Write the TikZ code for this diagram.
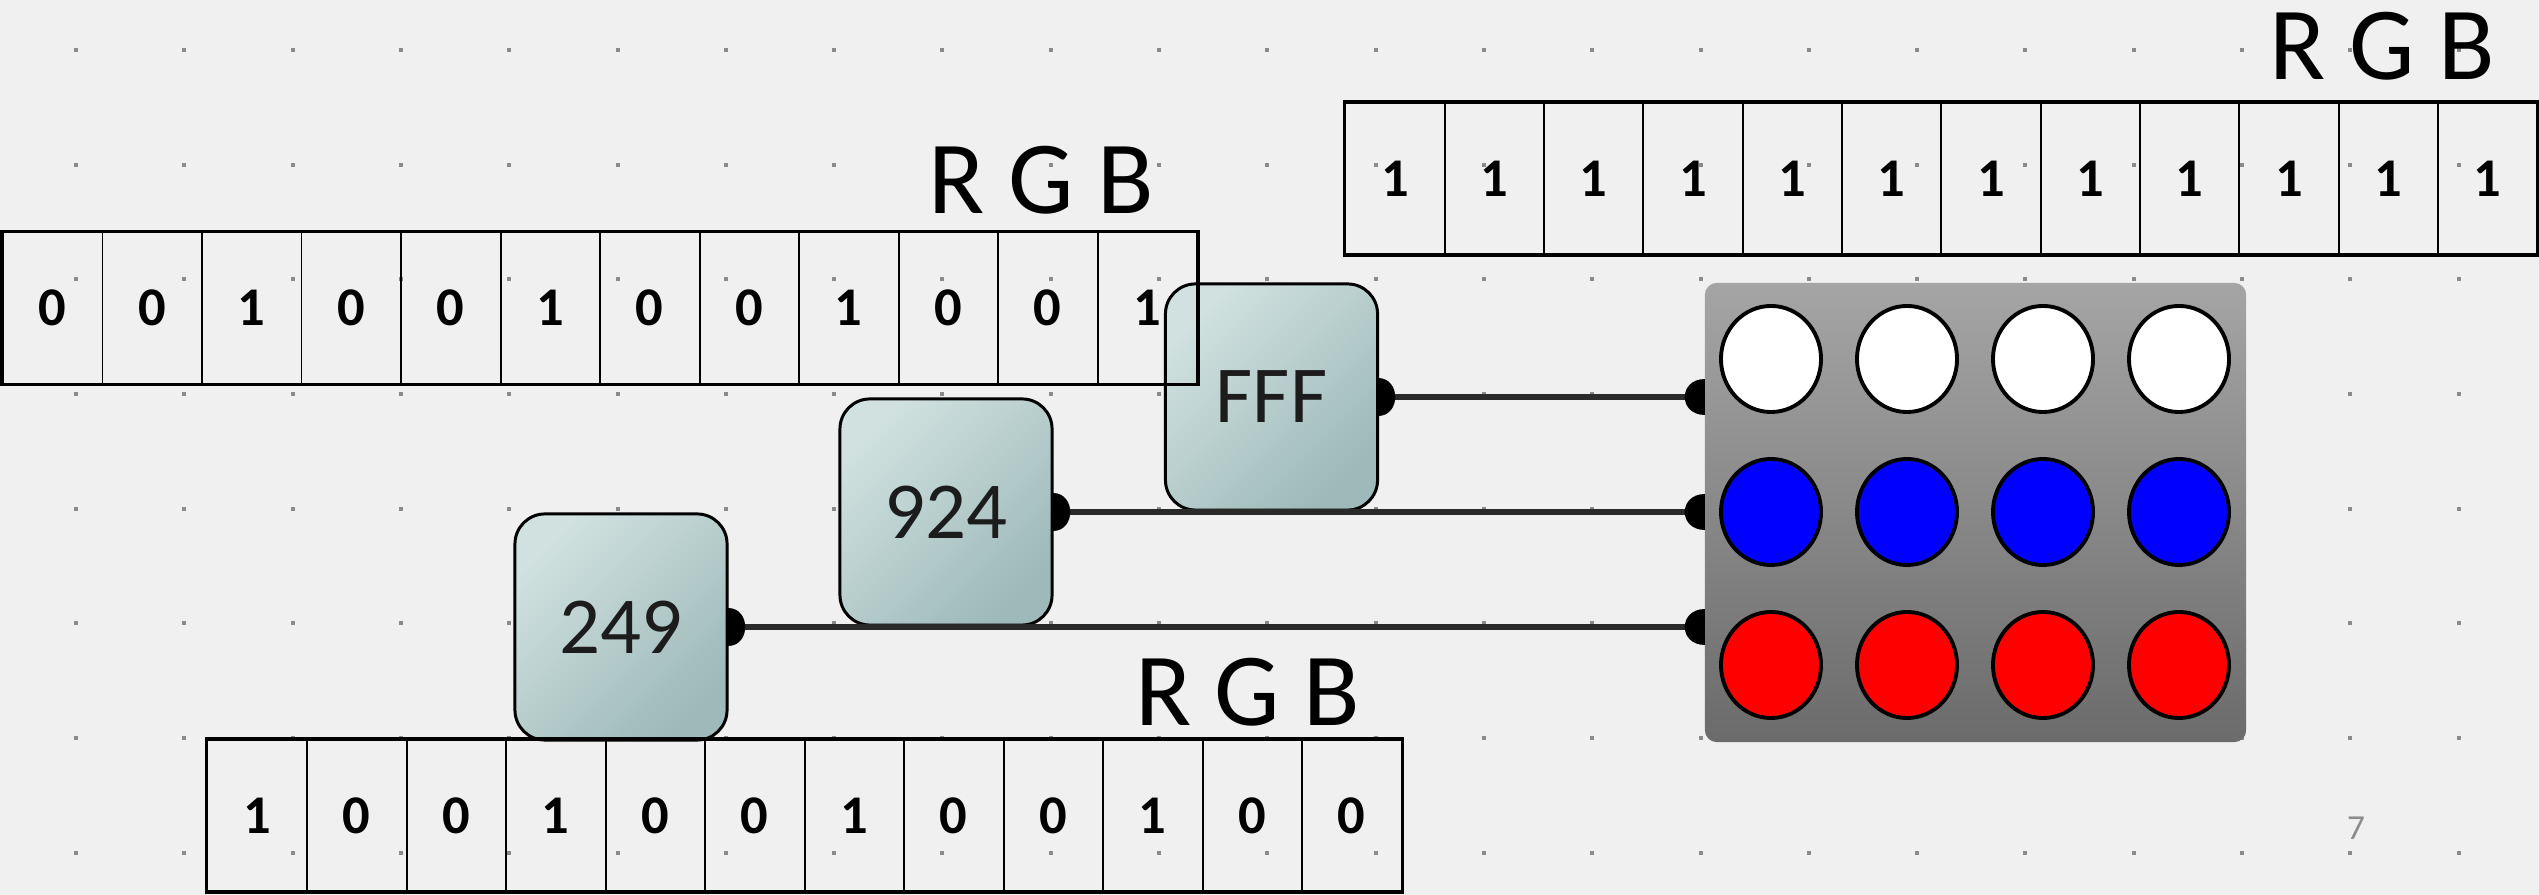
\documentclass[tikz,border=0pt]{standalone}
\usepackage{fontspec}
\setmainfont{Carlito}
\usetikzlibrary{shapes.geometric}
\definecolor{bgc}{HTML}{F0F0F0}
\definecolor{dotc}{HTML}{8A8A8A}
\definecolor{boxA}{HTML}{D0E1DF}
\definecolor{boxB}{HTML}{9DB9B9}
\definecolor{dispA}{HTML}{A5A5A5}
\definecolor{dispB}{HTML}{6B6B6B}
\definecolor{wirec}{HTML}{2A2A2A}
\definecolor{ledblue}{HTML}{0000FF}
\definecolor{ledred}{HTML}{FF0000}
\definecolor{pagegray}{HTML}{8C8C8C}
\definecolor{txtc}{HTML}{1C1C1C}
\newcommand\rpinshape[2]{\fill[black] (#1,#2-19) .. controls (#1+22.7,#2-19) and (#1+22.7,#2+19) .. (#1,#2+19) -- cycle;}
\newcommand\lpinshape[2]{\fill[black] (#1,#2-18) .. controls (#1-26.7,#2-18) and (#1-26.7,#2+18) .. (#1,#2+18) -- cycle;}
\begin{document}
\begin{tikzpicture}[x=0.01cm,y=-0.01cm,
 counter/.style={draw=black, line width=0.85pt, rounded corners=0.3cm, minimum width=2.12cm, minimum height=2.26cm, inner sep=0pt, top color=boxA, bottom color=boxB, shading angle=45, text=txtc, font=\fontsize{23}{24}\selectfont},
 bitcell/.style={draw=black, line width=0.55pt, minimum width=0.995cm, minimum height=1.51cm, inner sep=0pt, font=\bfseries\fontsize{15.5}{16}\selectfont},
 regframe/.style={draw=black, line width=0.9pt},
 rgb/.style={anchor=base, inner sep=0pt, font=\fontsize{29.5}{30}\selectfont},
 led/.style={ellipse, draw=black, line width=1.1pt, minimum width=1.0cm, minimum height=1.06cm, inner sep=0pt},
 display/.style={rounded corners=0.12cm, minimum width=5.41cm, minimum height=4.59cm, inner sep=0pt, top color=dispA, bottom color=dispB},
 wire/.style={draw=wirec, line width=1.9pt}]
\useasboundingbox (0,0) rectangle (2539,895);
\fill[bgc] (0,0) rectangle (2539,895);
% grid dots
\foreach \i in {0,...,22}
  \foreach \j in {0,...,7}
    \fill[dotc] ({76+108.3*\i-2},{50+114.7*\j-2}) rectangle +(4,4);
% display
\node[display] (disp) at (1975.5,512.5) {};
% counters
\node[counter] (cFFF) at (1271.5,397) {FFF};
\node[counter] (c924) at (946,512) {924};
\node[counter] (c249) at (621,627) {249};
% wires
\draw[wire] (cFFF.east) -- (cFFF.east -| disp.west);
\draw[wire] (c924.east) -- (c924.east -| disp.west);
\draw[wire] (c249.east) -- (c249.east -| disp.west);
% pins
\rpinshape{1378}{397}
\rpinshape{1053}{512}
\rpinshape{728}{627}
\lpinshape{1705}{397}
\lpinshape{1705}{512}
\lpinshape{1705}{627}
% LEDs
\foreach \c in {0,1,2,3}{
  \node[led, fill=white] (w\c) at ({1771+136*\c},359) {};
  \node[led, fill=ledblue] (b\c) at ({1771+136*\c},512) {};
  \node[led, fill=ledred] (r\c) at ({1771+136*\c},665) {};
}
% registers
\foreach \b [count=\k] in {0,0,1,0,0,1,0,0,1,0,0,1}
  \node[bitcell] (tl\k) at ({3+99.5*(\k-0.5)},308) {\b};
\draw[regframe] (tl1.north west) rectangle (tl12.south east);
\foreach \b [count=\k] in {1,1,1,1,1,1,1,1,1,1,1,1}
  \node[bitcell, minimum width=0.993cm] (tr\k) at ({1345.5+99.3*(\k-0.5)},178.5) {\b};
\draw[regframe] (tr1.north west) rectangle (tr12.south east);
\foreach \b [count=\k] in {1,0,0,1,0,0,1,0,0,1,0,0}
  \node[bitcell] (bt\k) at ({207.5+99.5*(\k-0.5)},815.5) {\b};
\draw[regframe] (bt1.north west) rectangle (bt12.south east);
% labels
\node[rgb] (rgbTL) at (1041,214) {R G B};
\node[rgb] (rgbTR) at (2382.5,80) {R G B};
\node[rgb] (rgbBT) at (1247.7,726) {R G B};
\node[anchor=base, inner sep=0pt, text=pagegray, font=\fontsize{10}{12}\selectfont] (pnum) at (2356,840) {7};
\end{tikzpicture}
\end{document}
